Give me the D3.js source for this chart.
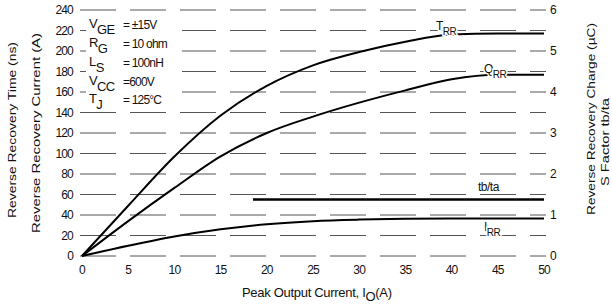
<!DOCTYPE html>
<html>
<head>
<meta charset="utf-8">
<script src="https://cdn.jsdelivr.net/npm/d3@7"></script>
<style>
  body { margin: 0; background: #fff; }
  svg { font-family: "Liberation Sans", Arial, sans-serif; }
  text { fill: #111; }
</style>
</head>
<body>
<script>
// values
const current = [0, 5, 10, 15, 20, 25, 30, 35, 40, 45, 50];      // peak output current (A)
const trr = [0, 49, 97, 137, 166, 186, 199, 209, 216, 217, 217];   // ns, left axis
const irr = [0, 10, 19, 26, 31, 34, 35.5, 36.3, 36.6, 36.7, 36.7]; // A, left axis
const qrr = [0, 0.85, 1.66, 2.43, 3.0, 3.4, 3.74, 4.04, 4.31, 4.42, 4.42]; // uC, right axis
const sX = [18.5, 50];      // S factor line extent
const sFactor = [1.38, 1.38];
const leftTicks = d3.range(0, 241, 20);
const rightTicks = [0, 1, 2, 3, 4, 5, 6];
const xTicks = [0, 5, 10, 15, 20, 25, 30, 35, 40, 45, 50];

const width = 612, height = 305;
const svg = d3.select('body').append('svg')
  .attr('width', width)
  .attr('height', height);

const x = d3.scaleLinear().domain([0, 50]).range([82, 544]);
const yL = d3.scaleLinear().domain([0, 240]).range([256, 10]);
const yR = d3.scaleLinear().domain([0, 6]).range([256, 10]);

// dashed horizontal grid
svg.append('g').selectAll('line')
  .data(leftTicks)
  .enter().append('line')
  .attr('x1', 80).attr('x2', 546)
  .attr('y1', d => yL(d)).attr('y2', d => yL(d))
  .attr('stroke', '#555')
  .attr('stroke-width', 1)
  .attr('stroke-dasharray', '36,14');

// left tick labels
svg.append('g').selectAll('text')
  .data(leftTicks)
  .enter().append('text')
  .attr('x', 73).attr('y', d => yL(d))
  .attr('dy', '0.35em')
  .attr('text-anchor', 'end')
  .attr('font-size', 12)
  .attr('letter-spacing', -0.8)
  .text(d => d);

// right tick labels
svg.append('g').selectAll('text')
  .data(rightTicks)
  .enter().append('text')
  .attr('x', 550).attr('y', d => yR(d))
  .attr('dy', '0.35em')
  .attr('font-size', 12)
  .text(d => d);

// bottom tick labels
svg.append('g').selectAll('text')
  .data(xTicks)
  .enter().append('text')
  .attr('x', d => x(d)).attr('y', 270)
  .attr('dy', '0.35em')
  .attr('text-anchor', 'middle')
  .attr('font-size', 12)
  .attr('letter-spacing', -0.8)
  .text(d => d);

// curves
const lineL = d3.line().x((d, i) => x(current[i])).y(d => yL(d)).curve(d3.curveMonotoneX);
const lineR = d3.line().x((d, i) => x(current[i])).y(d => yR(d)).curve(d3.curveMonotoneX);

[trr, irr].forEach(s => {
  svg.append('path').attr('d', lineL(s))
    .attr('fill', 'none').attr('stroke', '#000').attr('stroke-width', 2);
});
svg.append('path').attr('d', lineR(qrr))
  .attr('fill', 'none').attr('stroke', '#000').attr('stroke-width', 2);

const sLine = d3.line().x((d, i) => x(sX[i])).y(d => yR(d));
svg.append('path').attr('d', sLine(sFactor))
  .attr('fill', 'none').attr('stroke', '#000').attr('stroke-width', 2.5);

// curve labels with subscripts
function subLabel(xp, yp, main, sub, bg) {
  const t = svg.append('text').attr('x', xp).attr('y', yp)
    .attr('font-size', 12).attr('letter-spacing', -0.5);
  if (bg) t.attr('stroke', '#fff').attr('stroke-width', 3).attr('paint-order', 'stroke');
  t.append('tspan').text(main);
  t.append('tspan').attr('dy', 5).attr('font-size', 10).text(sub);
}
subLabel(436, 30, 'T', 'RR', true);
subLabel(484, 73, 'Q', 'RR', true);
subLabel(484, 231, 'I', 'RR', true);
svg.append('text').attr('x', 478).attr('y', 191)
  .attr('font-size', 12).attr('letter-spacing', -0.5)
  .text('tb/ta');

// test conditions block
const conds = [
  ['V', 'GE', '= ±15V', 28],
  ['R', 'G', '= 10 ohm', 47],
  ['L', 'S', '= 100nH', 66],
  ['V', 'CC', '=600V', 85],
  ['T', 'J', '= 125°C', 103]
];
conds.forEach(c => {
  const g = svg.append('g');
  g.append('rect').attr('x', 86).attr('y', c[3] - 12).attr('width', 96).attr('height', 19).attr('fill', '#fff');
  const t = g.append('text').attr('x', 89).attr('y', c[3])
    .attr('font-size', 13).attr('letter-spacing', -0.6);
  t.append('tspan').text(c[0]);
  t.append('tspan').attr('dy', 6).attr('font-size', 13).text(c[1]);
  g.append('text').attr('x', 123).attr('y', c[3] + 1)
    .attr('font-size', 12).attr('letter-spacing', -0.8).text(c[2]);
});

// axis titles
function vTitle(xp, yp, txt, len) {
  svg.append('text')
    .attr('transform', `translate(${xp},${yp}) rotate(-90)`)
    .attr('text-anchor', 'middle')
    .attr('dy', '0.35em')
    .attr('font-size', 11)
    .attr('textLength', len)
    .attr('lengthAdjust', 'spacingAndGlyphs')
    .text(txt);
}
vTitle(12, 130, 'Reverse Recovery Time (ns)', 176);
vTitle(36, 133, 'Reverse Recovery Current (A)', 200);
vTitle(591, 119, 'Reverse Recovery Charge (\u00b5C)', 192);
vTitle(605, 142, 'S Factor tb/ta', 88);

const xt = svg.append('text').attr('x', 242).attr('y', 297)
  .attr('font-size', 13).attr('letter-spacing', -0.3);
xt.append('tspan').text('Peak Output Current, I');
xt.append('tspan').attr('dy', 4).attr('font-size', 13).text('O');
xt.append('tspan').attr('dy', -4).text('(A)');
</script>
</body>
</html>
